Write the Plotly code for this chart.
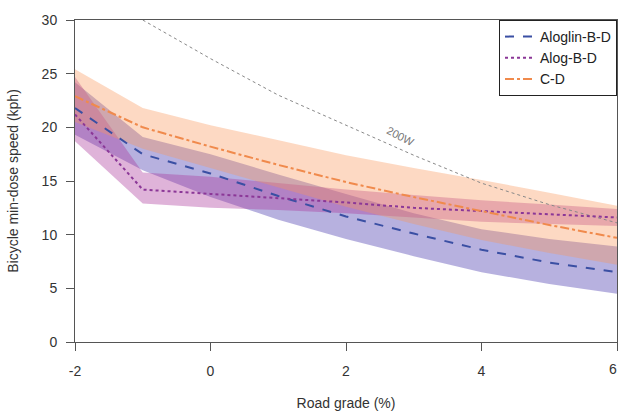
import plotly.graph_objects as go

grade = [-2, -1, 0, 1, 2, 3, 4, 5, 6]

aloglin_mean = [21.8, 17.5, 15.7, 13.6, 11.7, 10.1, 8.6, 7.4, 6.5]
aloglin_hi = [24.2, 19.1, 17.5, 15.6, 13.8, 12.0, 10.5, 9.6, 8.9]
aloglin_lo = [19.3, 16.0, 13.5, 11.4, 9.6, 8.0, 6.5, 5.4, 4.5]

alog_mean = [21.2, 14.2, 13.8, 13.4, 13.0, 12.5, 12.2, 11.9, 11.6]
alog_hi = [24.7, 15.8, 15.4, 14.8, 14.2, 13.7, 13.2, 12.8, 12.4]
alog_lo = [18.7, 12.9, 12.5, 12.3, 12.0, 11.6, 11.2, 11.0, 10.8]

cd_mean = [22.9, 20.0, 18.2, 16.5, 14.9, 13.5, 12.2, 10.9, 9.7]
cd_hi = [25.4, 21.8, 20.2, 18.8, 17.4, 16.2, 15.1, 13.9, 12.7]
cd_lo = [20.5, 18.0, 16.2, 14.4, 12.6, 11.0, 9.5, 8.3, 7.2]

w200_grade = [-1, 0, 1, 2, 3, 4, 5, 6]
w200_speed = [30.0, 26.4, 23.0, 20.2, 17.4, 14.8, 12.8, 11.1]

x_ticks = [-2, 0, 2, 4, 6]
y_ticks = [0, 5, 10, 15, 20, 25, 30]

series = [
    ("Aloglin-B-D", aloglin_mean, aloglin_hi, aloglin_lo, "#3a4fa3", "dash", "rgba(65,50,170,0.38)"),
    ("Alog-B-D", alog_mean, alog_hi, alog_lo, "#8b3797", "dot", "rgba(170,55,155,0.38)"),
    ("C-D", cd_mean, cd_hi, cd_lo, "#f08a4c", "dashdot", "rgba(250,150,90,0.36)"),
]

fig = go.Figure()

for name, m, hi, lo, col, dash, fillc in series:
    fig.add_trace(go.Scatter(
        x=grade + grade[::-1], y=hi + lo[::-1], fill="toself",
        fillcolor=fillc, line=dict(width=0), mode="lines",
        hoverinfo="skip", showlegend=False))

fig.add_trace(go.Scatter(
    x=w200_grade, y=w200_speed, mode="lines",
    line=dict(color="#888888", width=1, dash="dot"), showlegend=False))

for name, m, hi, lo, col, dash, fillc in series:
    fig.add_trace(go.Scatter(
        x=grade, y=m, mode="lines", name=name,
        line=dict(color=col, width=2, dash=dash)))

fig.add_annotation(x=2.8, y=19.2, text="200W", showarrow=False,
                   textangle=27, font=dict(size=11, color="#777777"))

# last x tick label sits at the right edge of the figure
fig.add_annotation(x=x_ticks[-1], xref="x", xanchor="right", xshift=2,
                   y=0, yref="paper", yanchor="top",
                   yshift=-17, text=str(x_ticks[-1]), showarrow=False,
                   font=dict(size=14, color="#333333"))

fig.update_layout(
    width=618, height=412,
    margin=dict(l=75, r=1, t=20, b=70, autoexpand=False),
    paper_bgcolor="white", plot_bgcolor="white",
    font=dict(family="Liberation Sans, Arial, sans-serif", size=14, color="#333333"),
    legend=dict(x=1, xanchor="right", y=1, yanchor="top",
                bordercolor="#222222", borderwidth=1, bgcolor="white",
                font=dict(size=14, color="#222222"), itemwidth=30,
                tracegroupgap=0),
)

fig.update_xaxes(
    range=[-2, 6], tickvals=x_ticks, ticktext=[str(v) for v in x_ticks],
    showgrid=False, zeroline=False, showline=True, linecolor="#555555", linewidth=1,
    mirror=True, ticks="outside", ticklen=8, tickcolor="#555555",
    ticklabelstandoff=8, automargin=False,
    title=dict(text="Road grade (%)", font=dict(size=14), standoff=20),
    tickfont=dict(size=14))
fig.update_yaxes(
    range=[0, 30], tickvals=y_ticks,
    showgrid=False, zeroline=False, showline=True, linecolor="#555555", linewidth=1,
    mirror=True, ticks="outside", ticklen=8, tickcolor="#555555",
    ticklabelstandoff=6, automargin=False,
    title=dict(text="Bicycle min-dose speed (kph)", font=dict(size=14), standoff=19),
    tickfont=dict(size=14))

fig.write_html("out.html", config={"displayModeBar": False},
               post_script="document.body.style.margin='0';document.body.style.padding='0';document.body.style.overflow='hidden';")
